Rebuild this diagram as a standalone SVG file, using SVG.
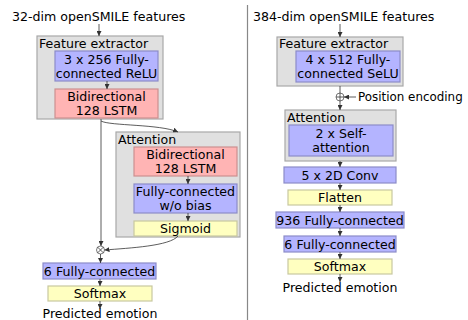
<svg xmlns="http://www.w3.org/2000/svg" width="468" height="320" viewBox="0 0 468 320">
<style>
text{font-family:"DejaVu Sans","Liberation Sans",sans-serif;font-size:12.6px;fill:#000}
.c{text-anchor:middle}
.grp{fill:#e0e0e0;stroke:#a8a8a8;stroke-width:1.2}
.blue{fill:#b4b4ff;stroke:#8c8cc8;stroke-width:1.2}
.pink{fill:#ffb4b4;stroke:#cc9090;stroke-width:1.2}
.yel{fill:#ffffc0;stroke:#c8c8a0;stroke-width:1.2}
.ln{fill:none;stroke:#333;stroke-width:0.8;marker-end:url(#ah)}
.ln2{fill:none;stroke:#333;stroke-width:0.8}
.op{fill:#fff;stroke:#555;stroke-width:0.8}
</style>
<defs>
<marker id="ah" viewBox="0 0 6 6" refX="6" refY="3" markerWidth="5" markerHeight="5" orient="auto" markerUnits="userSpaceOnUse">
<path d="M0,0 L6,3 L0,6 Z" fill="#333"/>
</marker>
</defs>
<rect width="468" height="320" fill="#fff"/>
<line x1="247.5" y1="5" x2="247.5" y2="320" stroke="#888" stroke-width="1.2"/>

<text x="12" y="21">32-dim openSMILE features</text>
<text x="253" y="21">384-dim openSMILE features</text>

<g id="left-feature-extractor">
<rect class="grp" x="37" y="36" width="126" height="83"/>
<text x="39" y="48">Feature extractor</text>
</g>
<g id="left-fc-relu">
<rect class="blue" x="55" y="51" width="103" height="30"/>
<text class="c" x="106.5" y="64">3 x 256 Fully-</text>
<text class="c" x="106.5" y="78">connected ReLU</text>
</g>
<g id="left-lstm">
<rect class="pink" x="55" y="89" width="103" height="29"/>
<text class="c" x="106.5" y="101">Bidirectional</text>
<text class="c" x="106.5" y="115">128 LSTM</text>
</g>
<g id="left-attention">
<rect class="grp" x="116" y="132" width="124" height="105"/>
<text x="118" y="144">Attention</text>
</g>
<g id="att-lstm">
<rect class="pink" x="134" y="147" width="103" height="29"/>
<text class="c" x="185.5" y="159">Bidirectional</text>
<text class="c" x="185.5" y="173">128 LSTM</text>
</g>
<g id="att-fc">
<rect class="blue" x="134" y="184" width="103" height="29"/>
<text class="c" x="185.5" y="196">Fully-connected</text>
<text class="c" x="185.5" y="210">w/o bias</text>
</g>
<g id="att-sigmoid">
<rect class="yel" x="134" y="221" width="103" height="15"/>
<text class="c" x="185.5" y="233">Sigmoid</text>
</g>
<g id="left-mult">
<circle class="op" cx="100.5" cy="250" r="4"/>
<path class="ln2" d="M97.7,247.2 L103.3,252.8 M103.3,247.2 L97.7,252.8"/>
</g>
<g id="left-fc6">
<rect class="blue" x="43" y="263" width="113" height="16"/>
<text class="c" x="99.5" y="275.5">6 Fully-connected</text>
</g>
<g id="left-softmax">
<rect class="yel" x="48" y="286" width="104" height="15"/>
<text class="c" x="100" y="298">Softmax</text>
</g>
<text class="c" x="100" y="318">Predicted emotion</text>

<g id="right-feature-extractor">
<rect class="grp" x="277" y="37" width="126" height="49"/>
<text x="279" y="48">Feature extractor</text>
</g>
<g id="right-fc-selu">
<rect class="blue" x="296" y="51" width="104" height="31"/>
<text class="c" x="348" y="64">4 x 512 Fully-</text>
<text class="c" x="348" y="78">connected SeLU</text>
</g>
<g id="right-add">
<circle class="op" cx="340" cy="97" r="4"/>
<path class="ln2" d="M336,97 H344 M340,93 V101"/>
</g>
<text x="358" y="101" style="font-size:11.9px">Position encoding</text>
<g id="right-attention">
<rect class="grp" x="285" y="110" width="111" height="51"/>
<text x="287" y="122">Attention</text>
</g>
<g id="right-self-att">
<rect class="blue" x="289" y="125" width="104" height="31"/>
<text class="c" x="341" y="138">2 x Self-</text>
<text class="c" x="341" y="152">attention</text>
</g>
<g id="right-conv">
<rect class="blue" x="284" y="167" width="112" height="16"/>
<text class="c" x="340" y="179.5">5 x 2D Conv</text>
</g>
<g id="right-flatten">
<rect class="yel" x="288" y="190" width="104" height="15"/>
<text class="c" x="340" y="202">Flatten</text>
</g>
<g id="right-fc936">
<rect class="blue" x="276" y="212" width="128" height="16"/>
<text class="c" x="340" y="224.5">936 Fully-connected</text>
</g>
<g id="right-fc6">
<rect class="blue" x="284" y="236" width="112" height="16"/>
<text class="c" x="340" y="248.5">6 Fully-connected</text>
</g>
<g id="right-softmax">
<rect class="yel" x="288" y="259" width="104" height="15"/>
<text class="c" x="340" y="271">Softmax</text>
</g>
<text class="c" x="340" y="292">Predicted emotion</text>

<g id="connectors">
<path class="ln" d="M99,24 V36"/>
<path class="ln" d="M107,81 V89"/>
<path class="ln" d="M101,119 V246"/>
<path class="ln" d="M101,121 C110,126 160,124 178,132"/>
<path class="ln" d="M188,176 V184"/>
<path class="ln" d="M188,213 V221"/>
<path class="ln" d="M178,236 C170,246 130,248 104.5,250"/>
<path class="ln" d="M100.5,254 V263"/>
<path class="ln" d="M100,279 V286"/>
<path class="ln" d="M100,301 V309"/>
<path class="ln" d="M340,24 V37"/>
<path class="ln2" d="M340,86 V93"/>
<path class="ln" d="M340,101 V110"/>
<path class="ln" d="M356,97 H344"/>
<path class="ln" d="M340,161 V167"/>
<path class="ln" d="M340,183 V190"/>
<path class="ln" d="M340,205 V212"/>
<path class="ln" d="M340,228 V236"/>
<path class="ln" d="M340,252 V259"/>
<path class="ln" d="M340,274 V282"/>
</g>
</svg>
